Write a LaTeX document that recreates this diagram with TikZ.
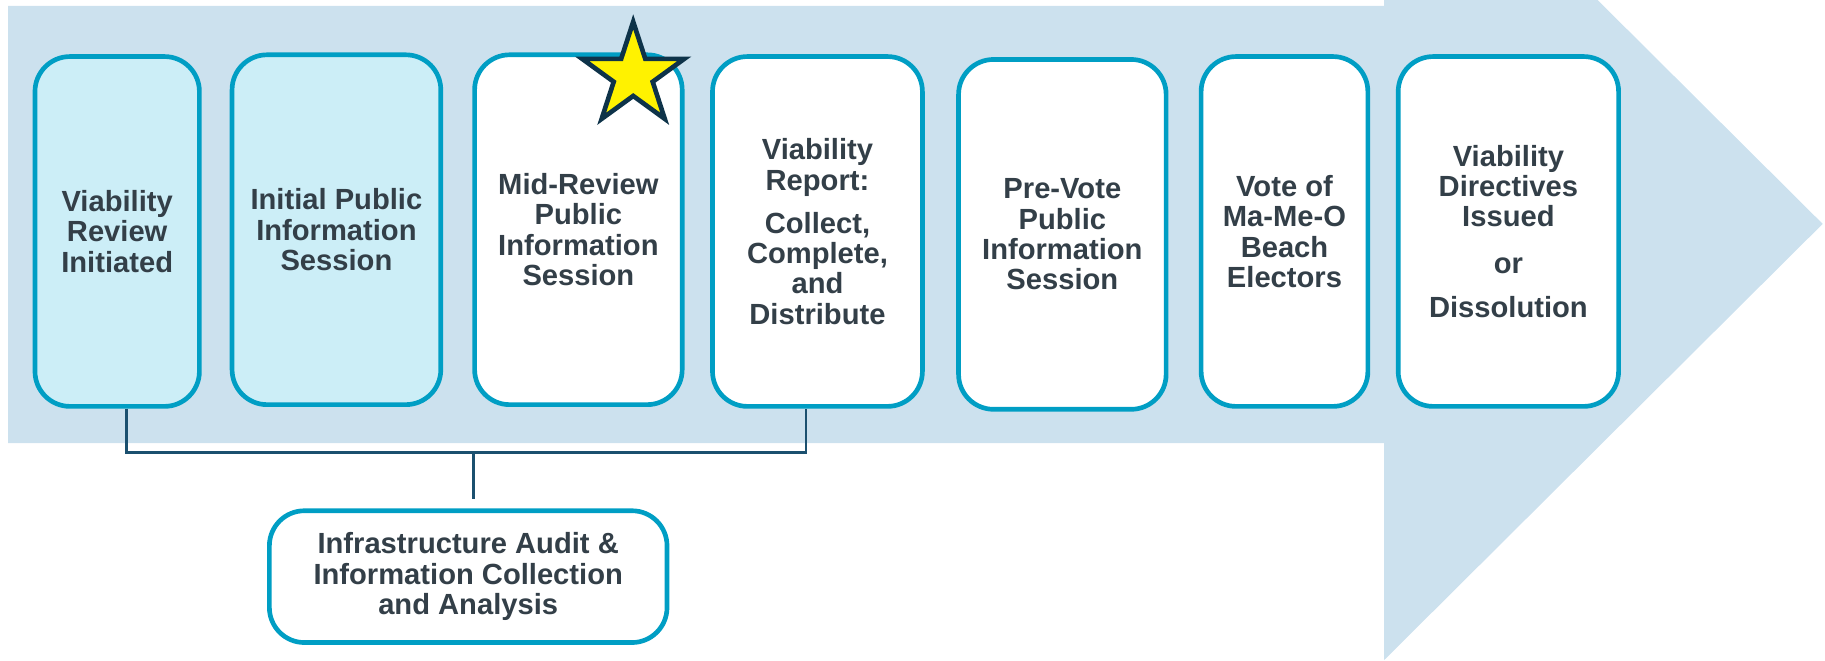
\documentclass[tikz,border=0pt]{standalone}
\usepackage{fontspec}
\setmainfont{Liberation Sans}
\usetikzlibrary{shapes.geometric,positioning}
\definecolor{arrowbg}{HTML}{CCE1EE}
\definecolor{stageline}{HTML}{009EC4}
\definecolor{stagefill}{HTML}{CCEEF7}
\definecolor{stagetext}{HTML}{333F48}
\definecolor{linkline}{HTML}{1B506F}
\definecolor{starline}{HTML}{0E3349}
\tikzset{
  stage/.style={draw=stageline, line width=2pt, fill=white, rounded corners=15pt,
    align=center, text=stagetext, font=\bfseries\fontsize{12.5pt}{13pt}\selectfont,
    minimum height=150pt, inner sep=0pt},
  done/.style={stage, fill=stagefill},
  link/.style={draw=linkline, line width=0.9pt},
}

\begin{document}
\begin{tikzpicture}[x=0.5pt,y=-0.5pt]
          \useasboundingbox (0,0) rectangle (1565,566);
          \clip (0,0) rectangle (1565,566);
          % big background arrow
          \fill[arrowbg] (7,5) -- (1187,5) -- (1187,-182) -- (1563,192) -- (1187,566) -- (1187,380) -- (7,380) -- cycle;
          % stages
          \node[done, minimum width=70.5pt] (vri) at (100.5,198.5) {Viability\\Review\\Initiated};
          \node[done, minimum width=89.5pt] (ipi) at (288.5,197) {Initial Public\\Information\\Session};
          \node[stage, minimum width=89pt] (mri) at (496,197) {Mid-Review\\Public\\Information\\Session};
          \node[stage, minimum width=90pt] (vrc) at (701,198.5) {Viability\\Report:\\[5.5pt]Collect,\\Complete,\\and\\Distribute};
          \node[stage, minimum width=89pt] (pvi) at (911,201) {Pre-Vote\\Public\\Information\\Session};
          \node[stage, minimum width=71.5pt] (vote) at (1101.5,198.5) {Vote of\\Ma-Me-O\\Beach\\Electors};
          \node[stage, minimum width=94.5pt] (vdd) at (1293.5,198.5) {Viability\\Directives\\Issued\\[7pt]or\\[6pt]Dissolution};
          \node[star, star points=5, star point ratio=2.618, minimum size=46pt, inner sep=0pt,
            fill=yellow, draw=starline, line width=2pt] (highlight) at (543,64.7) {};
          % audit box below
          \node[stage, minimum width=170.5pt, minimum height=56.5pt] (audit) at (401.5,494.5) {Infrastructure Audit \&\\Information Collection\\and Analysis};
          \coordinate (join) at (406,388);
          \draw[link] ([xshift=4pt]vri.south) |- (join) -| ([xshift=-5pt]vrc.south);
          \draw[link] (join) -- ([yshift=4pt]join |- audit.north);
        \end{tikzpicture}
\end{document}
